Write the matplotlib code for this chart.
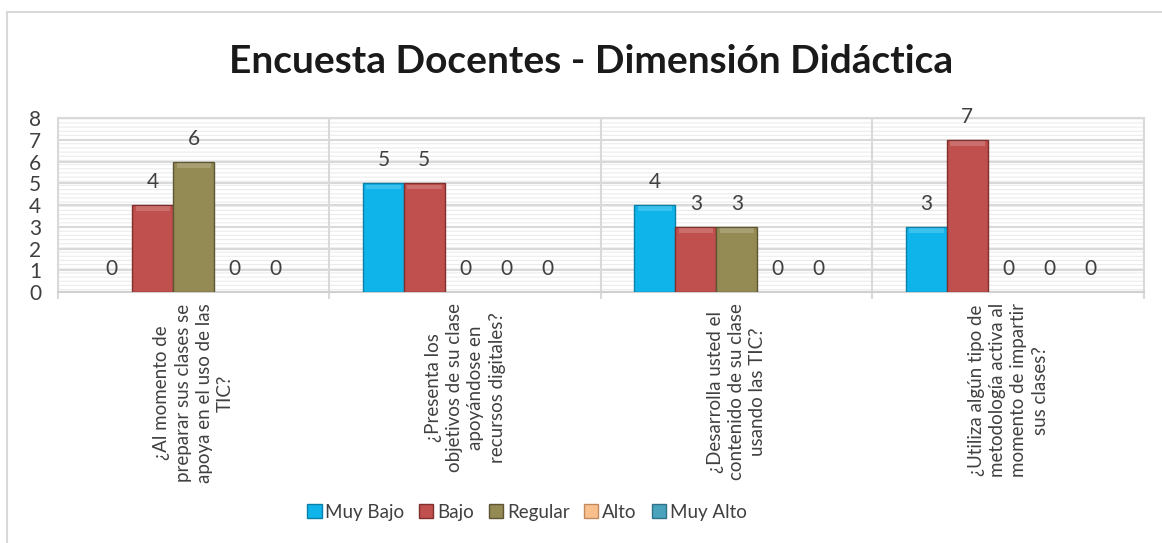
import matplotlib
matplotlib.use("Agg")
import matplotlib.pyplot as plt
from matplotlib.patches import Rectangle, Patch
import numpy as np

preguntas = [
    "¿Al momento de\npreparar sus clases se\napoya en el uso de las\nTIC?",
    "¿Presenta los\nobjetivos de su clase\napoyándose en\nrecursos digitales?",
    "¿Desarrolla usted el\ncontenido de su clase\nusando las TIC?",
    "¿Utiliza algún tipo de\nmetodología activa al\nmomento de impartir\nsus clases?",
]
series = ["Muy Bajo", "Bajo", "Regular", "Alto", "Muy Alto"]
muy_bajo = [0, 5, 4, 3]
bajo = [4, 5, 3, 7]
regular = [6, 0, 3, 0]
alto = [0, 0, 0, 0]
muy_alto = [0, 0, 0, 0]
valores = [muy_bajo, bajo, regular, alto, muy_alto]

cores = ["#0fb4ea", "#c0504d", "#948a54", "#f9c08e", "#4aa3bd"]
bordas = ["#0a7fa8", "#7f2f2d", "#5e5633", "#c08a5e", "#2f7186"]
cinza_txt = "#404040"

plt.rcParams["font.family"] = ["Lato", "DejaVu Sans"]
plt.rcParams["hatch.linewidth"] = 0.8

fig = plt.figure(figsize=(11.62, 5.43), dpi=100)
ax = fig.add_axes([0.0499, 0.4622, 0.9346, 0.3205])

# fundo com riscas horizontais finas
ax.patch.set_facecolor("white")
fundo = Rectangle((0, 0), 1, 1, transform=ax.transAxes, facecolor="white",
                  edgecolor="#ececec", hatch="----", linewidth=0, zorder=0)
ax.add_patch(fundo)

n = len(series)
largura = 0.1507
x = np.arange(len(preguntas))
for j, (nome, vals) in enumerate(zip(series, valores)):
    pos = x + (j - (n - 1) / 2) * largura
    espessuras = [1.0 if v > 0 else 0 for v in vals]
    barras = ax.bar(pos, vals, width=largura, color=cores[j],
                    edgecolor=bordas[j], linewidth=espessuras, zorder=3,
                    label=nome)
    for b in barras:
        h = b.get_height()
        if h > 0:
            # brilho no topo
            ax.add_patch(Rectangle((b.get_x() + largura * 0.08, h - 0.28),
                                   largura * 0.84, 0.22, facecolor="white",
                                   alpha=0.18, linewidth=0, zorder=4))
        ax.annotate(f"{int(h)}", (b.get_x() + largura / 2, h),
                    xytext=(0, 16.5), textcoords="offset points",
                    ha="center", va="center", fontsize=15, color=cinza_txt)

ax.set_xlim(-0.5, len(preguntas) - 0.5)
ax.set_ylim(0, 8)
ax.set_yticks(range(0, 9))
ax.yaxis.grid(True, color="#d9d9d9", linewidth=1.5, zorder=1)
for sep in np.arange(-0.5, len(preguntas), 1.0):
    ax.axvline(sep, color="#d9d9d9", linewidth=1.5, zorder=1)

ax.set_xticks(x)
ax.set_xticklabels(preguntas, rotation=90, fontsize=13.5, color=cinza_txt,
                   multialignment="center", va="top", linespacing=1.3)
ax.set_xticks(np.arange(-0.5, len(preguntas), 1.0), minor=True)
ax.tick_params(axis="x", which="major", length=0, pad=8)
ax.tick_params(axis="x", which="minor", length=5, color="#d9d9d9", width=1.5)
ax.tick_params(axis="y", length=0, labelsize=15, labelcolor=cinza_txt, pad=12)

for lado in ["top", "right", "left"]:
    ax.spines[lado].set_color("#d9d9d9")
    ax.spines[lado].set_linewidth(1.5)
ax.spines["bottom"].set_color("#d0d0d0")
ax.spines["bottom"].set_linewidth(1.5)

fig.text(0.509, 0.886, "Encuesta Docentes - Dimensión Didáctica",
         ha="center", va="center", fontsize=28, fontweight="bold", color="#1a1a1a")

handles = [Patch(facecolor=cores[j], edgecolor=bordas[j], label=series[j])
           for j in range(n)]
fig.legend(handles=handles, loc="center", bbox_to_anchor=(0.4535, 0.057),
           ncol=5, frameon=False, fontsize=13.5, handlelength=0.75,
           handleheight=0.75, handletextpad=0.2, columnspacing=0.8,
           labelcolor=cinza_txt)

# borda do grafico (cortada a direita e em baixo)
fig.add_artist(Rectangle((7 / 1162, -0.05), 1.1, 1 - 12 / 543 + 0.05,
                         transform=fig.transFigure, fill=False,
                         edgecolor="#d9d9d9", linewidth=1.5))

fig.savefig("out.png", dpi=100)
